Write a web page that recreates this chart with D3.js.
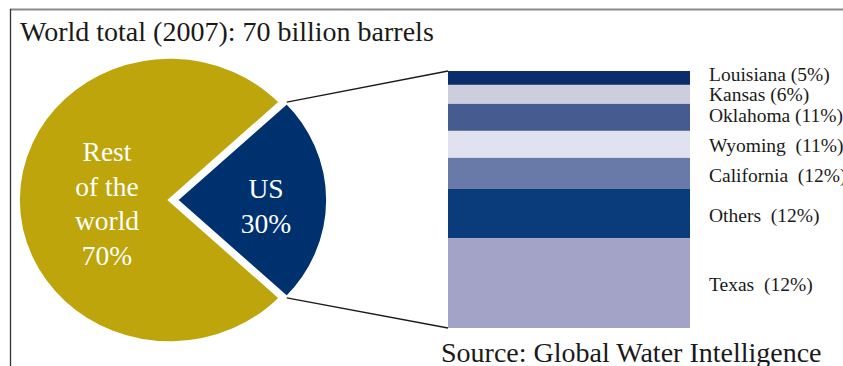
<!DOCTYPE html>
<html>
<head>
<meta charset="utf-8">
<script src="https://cdn.jsdelivr.net/npm/d3@7"></script>
<style>
  html, body { margin: 0; padding: 0; background: #fff; }
  svg { display: block; font-family: "Liberation Serif", "Times New Roman", serif; }
</style>
</head>
<body>
<div id="chart-area"></div>
<script>
// Pie data: slice labels and the shares as drawn in the picture
const pieNames = ["US", "Rest of the world"];
const pieLabels = [["US", "30%"], ["Rest", "of the", "world", "70%"]];
const pieShares = [24, 76];

// Breakdown of the US slice, top to bottom
const states = ["Louisiana", "Kansas", "Oklahoma", "Wyoming", "California", "Others", "Texas"];
const stateLabels = ["Louisiana (5%)", "Kansas (6%)", "Oklahoma (11%)", "Wyoming  (11%)",
  "California  (12%)", "Others  (12%)", "Texas  (12%)"];
const stateShares = [5.4, 7.4, 10.5, 10.5, 12.1, 19.1, 35.0];

// Color palette configuration
const COLORS = {
  rest: "#bda50b",
  us: "#00316f",
  border: "#333333",
  topRule: "#8a8a8a",
  text: "#1a1a1a",
  states: ["#0c2d6b", "#cccddd", "#465b8f", "#e0e2ef", "#6a7aa8", "#0a3c7c", "#a3a3c8"],
};

// Layout configuration
const LAYOUT = {
  width: 843,
  height: 366,
  pie: { cx: 170, cy: 200, rx: 152, ry: 143, explode: 6 },
  bar: { x0: 448, x1: 690, y0: 71, y1: 328 },
  labelX: 709,
  labelBaselines: [81, 101, 122, 152, 182, 222, 291],
};

const svg = d3.select("#chart-area").append("svg")
  .attr("width", LAYOUT.width)
  .attr("height", LAYOUT.height);

// Frame: grey rule on top, dark rule on the left
svg.append("line")
  .attr("x1", 10).attr("x2", LAYOUT.width)
  .attr("y1", 9.5).attr("y2", 9.5)
  .attr("stroke", COLORS.topRule)
  .attr("stroke-width", 2);

svg.append("line")
  .attr("x1", 10.5).attr("x2", 10.5)
  .attr("y1", 9).attr("y2", LAYOUT.height)
  .attr("stroke", COLORS.border)
  .attr("stroke-width", 1.3);

svg.append("text")
  .attr("x", 20)
  .attr("y", 41)
  .style("font-size", "28px")
  .attr("fill", COLORS.text)
  .text("World total (2007): 70 billion barrels");

// Pie (ellipse, US slice centred on the right)
const P = LAYOUT.pie;
const usAngle = (pieShares[0] / d3.sum(pieShares)) * 2 * Math.PI;
const pie = d3.pie()
  .sort(null)
  .value((d) => d)
  .startAngle(Math.PI / 2 - usAngle / 2)
  .endAngle(Math.PI / 2 - usAngle / 2 + 2 * Math.PI);
const arcs = pie(pieShares);
const arc = d3.arc().innerRadius(0).outerRadius(P.ry);
const sx = P.rx / P.ry;

const pieG = svg.append("g");
pieG.selectAll("path.slice")
  .data(arcs)
  .enter()
  .append("path")
  .attr("class", "slice")
  .attr("transform", (d, i) => `translate(${P.cx + (i === 0 ? P.explode : 0)}, ${P.cy}) scale(${sx}, 1)`)
  .attr("d", arc)
  .attr("fill", (d, i) => (i === 0 ? COLORS.us : COLORS.rest))
  .attr("stroke", "#fff")
  .attr("stroke-width", 3.5)
  .attr("stroke-linejoin", "miter");

// Slice labels
const pieLabelPos = [
  { x: 266, y: 198 },
  { x: 107, y: 161 },
];
pieLabels.forEach((lines, i) => {
  const t = svg.append("text")
    .attr("text-anchor", "middle")
    .attr("fill", "#fff")
    .style("font-size", "27.5px");
  lines.forEach((line, j) => {
    t.append("tspan")
      .attr("x", pieLabelPos[i].x)
      .attr("y", pieLabelPos[i].y + j * 34.5)
      .text(line);
  });
});

// Stacked bar for the US breakdown
const B = LAYOUT.bar;
const yScale = d3.scaleLinear()
  .domain([0, d3.sum(stateShares)])
  .range([B.y0, B.y1]);
const stack = d3.cumsum(stateShares);
const segments = states.map((s, i) => ({
  state: s,
  label: stateLabels[i],
  start: i === 0 ? 0 : stack[i - 1],
  end: stack[i],
}));

svg.selectAll("rect.seg")
  .data(segments)
  .enter()
  .append("rect")
  .attr("class", "seg")
  .attr("x", B.x0)
  .attr("width", B.x1 - B.x0)
  .attr("y", (d) => yScale(d.start))
  .attr("height", (d) => yScale(d.end) - yScale(d.start))
  .attr("fill", (d, i) => COLORS.states[i]);

svg.selectAll("text.seg-label")
  .data(segments)
  .enter()
  .append("text")
  .attr("class", "seg-label")
  .attr("x", LAYOUT.labelX)
  .attr("y", (d, i) => LAYOUT.labelBaselines[i])
  .attr("fill", COLORS.text)
  .style("font-size", "19.5px")
  .style("white-space", "pre")
  .attr("xml:space", "preserve")
  .text((d) => d.label);

// Connector lines from the US slice corners to the bar
const a0 = arcs[0].startAngle;
const a1 = arcs[0].endAngle;
const corner = (a) => [P.cx + P.explode + P.rx * Math.sin(a), P.cy - P.ry * Math.cos(a)];
[[corner(a0), [B.x0, yScale(0)]], [corner(a1), [B.x0, yScale(d3.sum(stateShares))]]]
  .forEach(([p, q]) => {
    svg.append("line")
      .attr("x1", p[0]).attr("y1", p[1])
      .attr("x2", q[0]).attr("y2", q[1])
      .attr("stroke", COLORS.text)
      .attr("stroke-width", 1.3);
  });

svg.append("text")
  .attr("x", 441)
  .attr("y", 362)
  .attr("fill", COLORS.text)
  .style("font-size", "28px")
  .text("Source: Global Water Intelligence");
</script>
</body>
</html>
